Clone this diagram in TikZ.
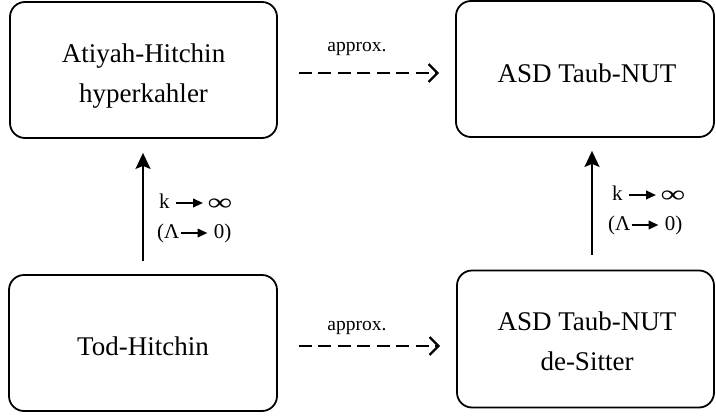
\documentclass[tikz,border=0pt]{standalone}
\usepackage{graphicx}
\usepackage{fontspec}
\setmainfont{Liberation Serif}
\usetikzlibrary{arrows.meta,calc}
\newcommand{\rarr}{\tikz[baseline={(0,-5pt)}]\draw[line width=2.2pt,-{Triangle[length=10pt,width=8.5pt]}] (0,0)--(27pt,0);}
\newcommand{\infsym}{\raisebox{-2pt}{\scalebox{1.65}[1.15]{∞}}}
\begin{document}
\begin{tikzpicture}[x=1pt,y=-1pt,
  box/.style={draw, line width=1.8pt, rounded corners=15pt, inner sep=0pt},
  boxtext/.style={inner sep=0pt, anchor=base, font=\fontsize{27}{30}\selectfont},
  smalltext/.style={inner sep=0pt, anchor=base, font=\fontsize{19.5}{22}\selectfont},
  labtext/.style={inner sep=0pt, anchor=base west, font=\fontsize{21}{24}\selectfont},
  dasharr/.style={line width=2pt, dash pattern=on 13pt off 6.5pt, -{Straight Barb[length=9pt,width=18pt,line width=2.2pt]}},
  solidarr/.style={line width=2pt, -{Stealth[length=16pt,width=15pt,inset=3pt]}}]
\useasboundingbox (0,0) rectangle (716,418);
\node[box, minimum width=267pt, minimum height=136pt] (ah) at (143.5,70) {};
\node[box, minimum width=258pt, minimum height=136pt] (tn) at (585,69) {};
\node[box, minimum width=268pt, minimum height=136pt] (th) at (143,343) {};
\node[box, minimum width=257pt, minimum height=137pt] (ds) at (585.5,339) {};
\node[boxtext] (ahA) at (143.5,62) {Atiyah-Hitchin};
\node[boxtext] (ahB) at (143.5,102) {hyperkahler};
\node[boxtext] (tnA) at (587,82) {ASD Taub-NUT};
\node[boxtext] (thA) at (143,355) {Tod-Hitchin};
\node[boxtext] (dsA) at (587,330) {ASD Taub-NUT};
\node[boxtext] (dsB) at (587,370) {de-Sitter};
\draw[dasharr, shorten <=21pt, shorten >=16pt] ([yshift=-3pt]ah.east) -- ([yshift=-3pt]ah.east -| tn.west);
\draw[dasharr, shorten <=21pt, shorten >=16pt] ([yshift=-3pt]th.east) -- ([yshift=-3pt]th.east -| ds.west);
\node[smalltext] (ap1) at (357,51) {approx.};
\node[smalltext] (ap2) at (357,330) {approx.};
\draw[solidarr, shorten <=13pt, shorten >=14pt] (th.north) -- (th.north |- ah.south);
\draw[solidarr, shorten <=15pt, shorten >=13pt] ([xshift=6.5pt]ds.north) -- ([xshift=6.5pt]ds.north |- tn.south);
\node[labtext] (l1a) at (159,208) {k \rarr\,\infsym};
\node[labtext] (l1b) at (157,238) {(Λ\rarr\ 0)};
\node[labtext] (l2a) at (612,200) {k \rarr\,\infsym};
\node[labtext] (l2b) at (608,230) {(Λ\rarr\ 0)};
\end{tikzpicture}
\end{document}
